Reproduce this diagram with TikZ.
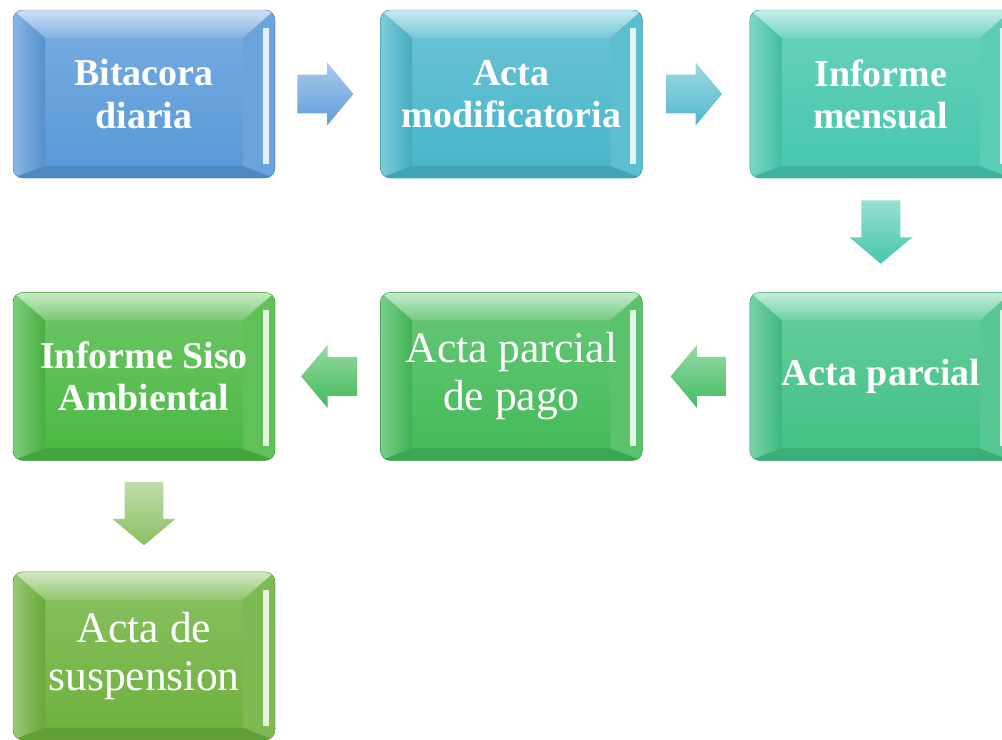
\documentclass[tikz,border=0pt]{standalone}
\usepackage{fontspec}
\setmainfont{Liberation Serif}
\usetikzlibrary{positioning,shapes.arrows,calc}

\definecolor{azul}{HTML}{5798D8}
\definecolor{cian}{HTML}{47B5CA}
\definecolor{turquesa}{HTML}{45C6AD}
\definecolor{menta}{HTML}{40C184}
\definecolor{verde}{HTML}{42BA57}
\definecolor{verdeb}{HTML}{4AB842}
\definecolor{oliva}{HTML}{6DB13C}

\begin{document}
\begin{tikzpicture}
  [bisel/.style = {path picture={
      \path (path picture bounding box.north west) coordinate (nw)
            (path picture bounding box.north east) coordinate (ne)
            (path picture bounding box.south west) coordinate (sw)
            (path picture bounding box.south east) coordinate (se);
      % cara superior
      \shade[sharp corners, top color=#1!30!white, bottom color=#1!75!white]
        (nw) -- (ne) -- ($(ne)+(-0.8,-0.7)$) -- ($(nw)+(0.8,-0.7)$) -- cycle;
      % lado izquierdo
      \shade[sharp corners, left color=#1!70!white, right color=#1!95!black]
        (nw) -- ($(nw)+(0.8,-0.7)$) -- ($(sw)+(0.8,0.3)$) -- (sw) -- cycle;
      % borde inferior
      \fill[sharp corners, #1!90!black]
        (sw) -- ($(sw)+(0.8,0.3)$) -- ($(se)+(-0.8,0.3)$) -- (se) -- cycle;
      % lado derecho
      \fill[sharp corners, #1!88!white]
        (ne) -- ($(ne)+(-0.8,-0.7)$) -- ($(se)+(-0.8,0.3)$) -- (se) -- cycle;
      \fill[sharp corners, #1!15!white] ($(ne)+(-0.3,-0.45)$) rectangle ($(se)+(-0.15,0.35)$);
    }},
   paso/.style = {rectangle, rounded corners=7pt,
                  minimum width=6.55cm, minimum height=4.2cm,
                  top color=#1!80!white, bottom color=#1,
                  draw=#1!85!black, line width=0.3pt, bisel=#1,
                  text=white, align=center, inner sep=2pt,
                  font=\bfseries\fontsize{27}{30}\selectfont},
   normal/.style = {font=\fontsize{31}{34}\selectfont},
   flecha/.style = {single arrow, draw=none, inner sep=0.48cm,
                    top color=#1!55!white, bottom color=#1,
                    minimum height=1.4cm, anchor=tail,
                    single arrow head extend=0.3cm,
                    single arrow tip angle=100},
   abajo/.style = {shape border rotate=270, minimum height=1.58cm}]
  \useasboundingbox (0,0) rectangle (25.05,-18.5);
  % Fila superior
  \node[paso=azul] (bitacora) at (3.6,-2.35) {Bitacora\\diaria};
  \node[paso=cian, right=2.625cm of bitacora] (modif) {Acta\\modificatoria};
  \node[paso=turquesa, right=2.675cm of modif] (mensual) {Informe\\mensual};
  % Fila media
  \node[paso=menta, below=2.85cm of mensual] (parcial) {Acta parcial};
  \node[paso=verde, normal, left=2.675cm of parcial] (pago) {Acta parcial\\de pago};
  \node[paso=verdeb, left=2.625cm of pago] (siso) {Informe Siso\\Ambiental};
  % Fila inferior
  \node[paso=oliva, normal, below=2.775cm of siso] (suspension) {Acta de\\suspension};
  % Flechas
  \node[flecha=azul!95!white] (f1) at ($(bitacora.east)+(0.55,0)$) {};
  \node[flecha=cian!95!white] (f2) at ($(modif.east)+(0.58,0)$) {};
  \node[flecha=turquesa, abajo] (f3) at ($(mensual.south)+(0,-0.55)$) {};
  \node[flecha=verde!80!menta, shape border rotate=180] (f4) at ($(parcial.west)+(-0.57,0)$) {};
  \node[flecha=verde, shape border rotate=180] (f5) at ($(pago.west)+(-0.57,0)$) {};
  \node[flecha=oliva!80!white, abajo] (f6) at ($(siso.south)+(0,-0.53)$) {};
\end{tikzpicture}
\end{document}
